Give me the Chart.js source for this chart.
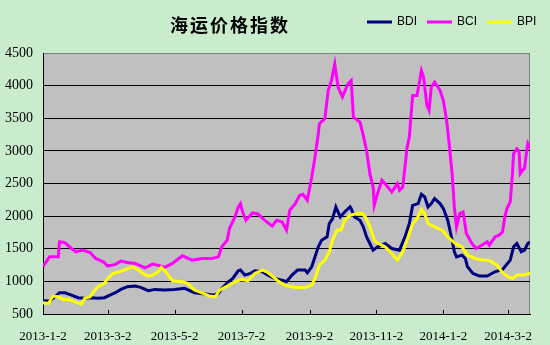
<!DOCTYPE html>
<html>
<head>
<meta charset="utf-8">
<script src="https://cdn.jsdelivr.net/npm/chart.js@4.4.0/dist/chart.umd.min.js"></script>
<style>
  body { margin: 0; background: #C8ECCC; }
</style>
</head>
<body>
<canvas id="freightChart" width="550" height="345"></canvas>
<script>
const chartTitle = '海运价格指数';
const seriesNames = ['BDI', 'BCI', 'BPI'];
const tickLabels = ['2013-1-2', '2013-3-2', '2013-5-2', '2013-7-2', '2013-9-2', '2013-11-2', '2014-1-2', '2014-3-2'];
const yTicks = [500, 1000, 1500, 2000, 2500, 3000, 3500, 4000, 4500];

const bdiDates = ['2013-01-02','2013-01-08','2013-01-13','2013-01-17','2013-01-22','2013-01-28','2013-02-03','2013-02-09','2013-02-15','2013-02-21',
  '2013-02-27','2013-03-04','2013-03-09','2013-03-14','2013-03-20','2013-03-27','2013-04-01','2013-04-08','2013-04-14','2013-04-23',
  '2013-05-02','2013-05-11','2013-05-20','2013-05-30','2013-06-06','2013-06-11','2013-06-14','2013-06-20','2013-06-24','2013-06-29',
  '2013-07-01','2013-07-05','2013-07-10','2013-07-14','2013-07-21','2013-07-26','2013-08-01','2013-08-08','2013-08-12','2013-08-17',
  '2013-08-22','2013-08-29','2013-08-31','2013-09-04','2013-09-07','2013-09-10','2013-09-13','2013-09-18','2013-09-20','2013-09-23',
  '2013-09-26','2013-09-30','2013-10-04','2013-10-09','2013-10-10','2013-10-13','2013-10-18','2013-10-21','2013-10-24','2013-10-27',
  '2013-10-30','2013-11-03','2013-11-10','2013-11-16','2013-11-23','2013-11-28','2013-12-02','2013-12-05','2013-12-10','2013-12-13',
  '2013-12-16','2013-12-19','2013-12-22','2013-12-25','2013-12-30','2014-01-02','2014-01-06','2014-01-10','2014-01-12','2014-01-14',
  '2014-01-19','2014-01-22','2014-01-24','2014-01-29','2014-02-04','2014-02-11','2014-02-18','2014-02-25','2014-03-02','2014-03-04',
  '2014-03-07','2014-03-10','2014-03-14','2014-03-17','2014-03-20','2014-03-22'];
const bdiValues = [703, 700, 765, 826, 826, 790, 750, 740, 750, 740,
  750, 790, 826, 877, 918, 928, 908, 857, 877, 867,
  877, 893, 826, 806, 790, 816, 893, 994, 1046, 1162,
  1173, 1096, 1122, 1162, 1147, 1096, 1046, 1020, 994, 1096,
  1173, 1173, 1132, 1223, 1376, 1529, 1631, 1682, 1886, 1963,
  2141, 1988, 2064, 2141, 2115, 1988, 1937, 1835, 1682, 1580,
  1478, 1529, 1580, 1504, 1478, 1682, 1886, 2166, 2192, 2335,
  2294, 2141, 2192, 2269, 2192, 2116, 1937, 1631, 1453, 1376,
  1402, 1351, 1223, 1122, 1081, 1081, 1147, 1183, 1285, 1326,
  1529, 1580, 1453, 1478, 1580, 1606];

const bciDates = ['2013-01-02','2013-01-08','2013-01-16','2013-01-17','2013-01-20','2013-01-22','2013-01-28','2013-02-01','2013-02-07','2013-02-14',
  '2013-02-19','2013-02-26','2013-03-02','2013-03-09','2013-03-14','2013-03-20','2013-03-27','2013-04-05','2013-04-12','2013-04-20',
  '2013-04-23','2013-04-30','2013-05-09','2013-05-18','2013-05-27','2013-06-05','2013-06-11','2013-06-14','2013-06-19','2013-06-21',
  '2013-06-26','2013-06-29','2013-07-01','2013-07-03','2013-07-06','2013-07-12','2013-07-17','2013-07-23','2013-07-30','2013-08-03',
  '2013-08-08','2013-08-12','2013-08-15','2013-08-20','2013-08-24','2013-08-27','2013-08-31','2013-09-04','2013-09-07','2013-09-10',
  '2013-09-11','2013-09-16','2013-09-19','2013-09-22','2013-09-25','2013-09-28','2013-10-02','2013-10-07','2013-10-10','2013-10-12',
  '2013-10-18','2013-10-21','2013-10-24','2013-10-27','2013-10-30','2013-10-31','2013-11-03','2013-11-07','2013-11-11','2013-11-16',
  '2013-11-21','2013-11-23','2013-11-26','2013-11-30','2013-12-02','2013-12-05','2013-12-09','2013-12-13','2013-12-15','2013-12-18',
  '2013-12-20','2013-12-22','2013-12-25','2013-12-30','2014-01-02','2014-01-05','2014-01-07','2014-01-10','2014-01-12','2014-01-14',
  '2014-01-17','2014-01-20','2014-01-23','2014-01-28','2014-02-01','2014-02-06','2014-02-11','2014-02-13','2014-02-18','2014-02-22',
  '2014-02-25','2014-02-27','2014-03-01','2014-03-04','2014-03-06','2014-03-07','2014-03-10','2014-03-12','2014-03-13','2014-03-15',
  '2014-03-17','2014-03-19','2014-03-20','2014-03-22'];
const bciValues = [1230, 1376, 1376, 1605, 1600, 1590, 1504, 1453, 1479, 1443,
  1352, 1300, 1234, 1260, 1310, 1290, 1275, 1208, 1264, 1234,
  1214, 1275, 1392, 1326, 1352, 1352, 1376, 1529, 1632, 1810,
  1988, 2141, 2192, 2064, 1937, 2049, 2034, 1937, 1845, 1937,
  1911, 1784, 2090, 2192, 2320, 2335, 2243, 2600, 2905, 3263,
  3416, 3492, 3925, 4078, 4333, 3978, 3825, 4027, 4078, 3516,
  3440, 3237, 3007, 2651, 2446, 2166, 2345, 2549, 2472, 2370,
  2498, 2396, 2446, 3058, 3211, 3849, 3849, 4231, 4129, 3696,
  3620, 3977, 4053, 3925, 3772, 3466, 3160, 2651, 2141, 1835,
  2039, 2064, 1734, 1581, 1504, 1555, 1606, 1555, 1682, 1708,
  1759, 1988, 2116, 2218, 2651, 2957, 3033, 3000, 2651, 2702,
  2728, 3007, 3110, 3033];

const bpiDates = ['2013-01-02','2013-01-07','2013-01-11','2013-01-16','2013-01-20','2013-01-25','2013-01-31','2013-02-06','2013-02-09','2013-02-14',
  '2013-02-17','2013-02-21','2013-02-27','2013-03-02','2013-03-07','2013-03-13','2013-03-19','2013-03-25','2013-03-30','2013-04-03',
  '2013-04-08','2013-04-12','2013-04-17','2013-04-20','2013-04-25','2013-04-30','2013-05-09','2013-05-14','2013-05-20','2013-05-28',
  '2013-06-03','2013-06-08','2013-06-12','2013-06-19','2013-06-26','2013-07-02','2013-07-08','2013-07-14','2013-07-21','2013-07-25',
  '2013-07-30','2013-08-04','2013-08-10','2013-08-20','2013-08-29','2013-09-04','2013-09-07','2013-09-11','2013-09-16','2013-09-20',
  '2013-09-23','2013-09-27','2013-10-01','2013-10-04','2013-10-09','2013-10-15','2013-10-20','2013-10-23','2013-10-27','2013-10-31',
  '2013-11-03','2013-11-10','2013-11-16','2013-11-21','2013-11-26','2013-12-01','2013-12-05','2013-12-09','2013-12-13','2013-12-16',
  '2013-12-19','2013-12-25','2014-01-01','2014-01-06','2014-01-12','2014-01-19','2014-01-24','2014-01-31','2014-02-07','2014-02-13',
  '2014-02-20','2014-02-25','2014-03-02','2014-03-06','2014-03-10','2014-03-15','2014-03-22'];
const bpiValues = [673, 660, 775, 765, 724, 724, 688, 650, 740, 765,
  841, 918, 969, 1046, 1122, 1147, 1188, 1223, 1173, 1122,
  1081, 1096, 1147, 1214, 1122, 1010, 994, 969, 867, 816,
  775, 765, 867, 928, 994, 1030, 1010, 1122, 1173, 1147,
  1081, 1010, 943, 908, 908, 943, 1046, 1249, 1326, 1453,
  1631, 1784, 1790, 1937, 2013, 2039, 2039, 1988, 1835, 1631,
  1590, 1529, 1428, 1326, 1453, 1682, 1886, 1963, 2100, 2039,
  1886, 1835, 1784, 1682, 1590, 1529, 1402, 1351, 1326, 1320,
  1249, 1132, 1070, 1046, 1096, 1096, 1122];

// dates -> day number counted from the first trading day
const startDay = Date.UTC(2013, 0, 2);
function dayOf(s) {
  const p = s.split('-').map(Number);
  return (Date.UTC(p[0], p[1] - 1, p[2]) - startDay) / 86400000;
}
function toPoints(dates, values) {
  return dates.map((d, i) => ({ x: dayOf(d), y: values[i] }));
}
const tickDays = tickLabels.map(dayOf);
const lastDay = Math.max(dayOf(bdiDates[bdiDates.length - 1]), dayOf(bciDates[bciDates.length - 1]), dayOf(bpiDates[bpiDates.length - 1]));

const lineColors = ['#000080', '#FF00FF', '#FFFF00'];

const frame = {
  id: 'frame',
  beforeDraw(chart) {
    const { ctx, chartArea: a } = chart;
    ctx.save();
    ctx.fillStyle = '#C8ECCC';
    ctx.fillRect(0, 0, chart.width, chart.height);
    ctx.fillStyle = '#C0C0C0';
    ctx.fillRect(a.left, a.top, a.right - a.left, a.bottom - a.top);
    ctx.strokeStyle = '#808080';
    ctx.lineWidth = 1;
    ctx.strokeRect(a.left + 0.5, a.top + 0.5, a.right - a.left - 1, a.bottom - a.top);
    ctx.restore();
  },
  afterDraw(chart) {
    const { ctx, chartArea: a } = chart;
    const xs = chart.scales.x;
    ctx.save();
    // small tick marks pointing into the plot
    ctx.strokeStyle = '#000';
    ctx.lineWidth = 1;
    tickDays.forEach(d => {
      const px = Math.round(xs.getPixelForValue(d)) + 0.5;
      ctx.beginPath();
      ctx.moveTo(px, a.bottom);
      ctx.lineTo(px, a.bottom - 4);
      ctx.stroke();
    });
    // title
    ctx.fillStyle = '#000';
    ctx.font = 'bold 18px "Noto Sans CJK SC"';
    ctx.letterSpacing = '2px';
    ctx.textAlign = 'center';
    ctx.textBaseline = 'middle';
    ctx.fillText(chartTitle, 230, 25);
    // legend
    ctx.letterSpacing = '0px';
    ctx.font = '12px "Liberation Sans"';
    ctx.textAlign = 'left';
    seriesNames.forEach((name, i) => {
      const x0 = 367 + i * 60;
      ctx.strokeStyle = lineColors[i];
      ctx.lineWidth = 3;
      ctx.beginPath();
      ctx.moveTo(x0, 22);
      ctx.lineTo(x0 + 25, 22);
      ctx.stroke();
      ctx.fillStyle = '#000';
      ctx.fillText(name, x0 + 30, 22);
    });
    ctx.restore();
  }
};

const ctx = document.getElementById('freightChart').getContext('2d');
const freightChart = new Chart(ctx, {
  type: 'line',
  data: {
    datasets: [
      { label: seriesNames[0], data: toPoints(bdiDates, bdiValues), borderColor: lineColors[0], order: 2 },
      { label: seriesNames[1], data: toPoints(bciDates, bciValues), borderColor: lineColors[1], order: 1 },
      { label: seriesNames[2], data: toPoints(bpiDates, bpiValues), borderColor: lineColors[2], order: 0 }
    ]
  },
  options: {
    responsive: false,
    animation: false,
    layout: { padding: { left: 0, right: 20, top: 53, bottom: 0 } },
    elements: {
      line: { borderWidth: 3, tension: 0 },
      point: { radius: 0 }
    },
    plugins: {
      legend: { display: false },
      tooltip: { enabled: false }
    },
    scales: {
      x: {
        type: 'linear',
        min: 0,
        max: lastDay,
        afterBuildTicks: scale => { scale.ticks = tickDays.map(v => ({ value: v })); },
        afterFit: scale => { scale.height = 31; },
        ticks: {
          autoSkip: false,
          maxRotation: 0,
          padding: 7,
          color: '#000',
          font: { family: 'Liberation Serif', size: 13 },
          callback: value => tickLabels[tickDays.indexOf(value)]
        },
        grid: { display: false },
        border: { display: true, color: '#000', width: 1 }
      },
      y: {
        min: 500,
        max: 4500,
        afterBuildTicks: scale => { scale.ticks = yTicks.map(v => ({ value: v })); },
        afterFit: scale => { scale.width = 43; },
        ticks: {
          padding: 10,
          color: '#000',
          font: { family: 'Liberation Serif', size: 14 },
          callback: value => String(value)
        },
        grid: {
          drawTicks: false,
          color: c => (c.tick && c.tick.value === 4500) ? '#808080' : '#000',
          lineWidth: 1
        },
        border: { display: true, color: '#000', width: 1 }
      }
    }
  },
  plugins: [frame]
});
</script>
</body>
</html>
